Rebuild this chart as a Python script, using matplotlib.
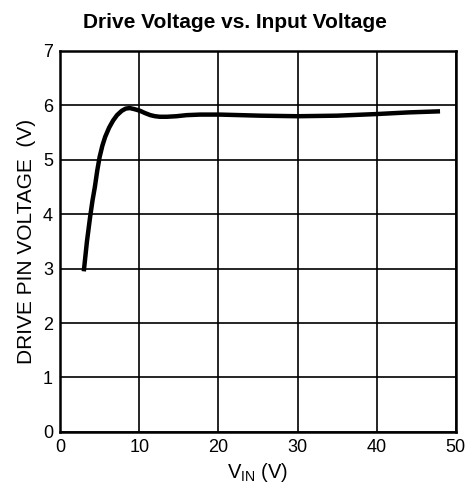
import matplotlib.pyplot as plt

plt.rcParams['font.family'] = ['Liberation Sans', 'DejaVu Sans']

# curve
vin = [3.0, 3.4, 3.8, 4.1, 4.4, 4.7, 5.0, 5.35, 5.7, 6.2, 6.7, 7.2, 7.8, 8.3, 8.8,
       9.4, 10.1, 10.7, 11.4, 12.0, 12.6, 13.5, 14.7, 16.0, 17.7, 20.2, 25.3,
       30.0, 35.0, 40.0, 44.0, 48.0]
vdrive = [2.95, 3.5, 3.95, 4.25, 4.5, 4.8, 5.05, 5.26, 5.42, 5.59, 5.72, 5.82, 5.9,
          5.94, 5.95, 5.93, 5.9, 5.86, 5.82, 5.8, 5.79, 5.79, 5.8, 5.82, 5.83, 5.83,
          5.81, 5.8, 5.81, 5.84, 5.87, 5.89]

xticks = [0, 10, 20, 30, 40, 50]
yticks = [0, 1, 2, 3, 4, 5, 6, 7]

fig = plt.figure(figsize=(4.69, 5.04), dpi=100)
ax = fig.add_axes([0.128, 0.143, 0.844, 0.756])

ax.plot(vin, vdrive, color='black', linewidth=3.2, solid_capstyle='butt',
        solid_joinstyle='round')

ax.set_xlim(0, 50)
ax.set_ylim(0, 7)
ax.set_xticks(xticks)
ax.set_yticks(yticks)
ax.grid(True, color='black', linewidth=1.2)
ax.tick_params(length=0, labelsize=13, pad=5)
for s in ax.spines.values():
    s.set_linewidth(1.8)

ax.set_xlabel('V$_{\\mathregular{IN}}$ (V)', fontsize=14.5, labelpad=4)
ax.set_ylabel('DRIVE PIN VOLTAGE  (V)', fontsize=15, labelpad=5)
fig.suptitle('Drive Voltage vs. Input Voltage', fontsize=15, fontweight='bold',
             x=0.5, y=0.975)

fig.savefig('out.png', dpi=100)
